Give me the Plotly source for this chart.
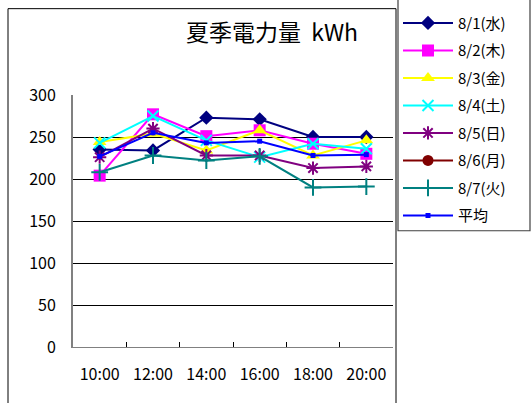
import plotly.graph_objects as go

# Hourly readings (kWh) for one week in August
times = ["10:00", "12:00", "14:00", "16:00", "18:00", "20:00"]
day_labels = ["8/1(水)", "8/2(木)", "8/3(金)", "8/4(土)", "8/5(日)", "8/6(月)", "8/7(火)", "平均"]

d0801 = [235, 234, 273, 271, 250, 250]
d0802 = [204, 277, 251, 258, 242, 230]
d0803 = [244, 254, 234, 258, 228, 246]
d0804 = [243, 275, 246, 226, 242, 236]
d0805 = [226, 260, 228, 228, 213, 215]
d0806 = [None, None, None, None, None, None]
d0807 = [208, 228, 222, 227, 190, 191]
avg = [227, 255, 243, 245, 228, 229]

y_ticks = [0, 50, 100, 150, 200, 250, 300]

series = [d0801, d0802, d0803, d0804, d0805, d0806, d0807, avg]
styles = [
    dict(color="#000080", symbol="diamond", size=11, lw=0),
    dict(color="#FF00FF", symbol="square", size=12, lw=0),
    dict(color="#FFFF00", symbol="triangle-up", size=12, lw=0),
    dict(color="#00FFFF", symbol="x-thin-open", size=11, lw=2),
    dict(color="#800080", symbol="asterisk-open", size=11, lw=2),
    dict(color="#800000", symbol="circle", size=11, lw=0),
    dict(color="#008080", symbol="cross-thin-open", size=12, lw=2),
    dict(color="#0000FF", symbol="square", size=5, lw=0),
]

FONT = "Noto Sans CJK JP"

fig = go.Figure()
for i, (name, vals, st) in enumerate(zip(day_labels, series, styles)):
    fig.add_trace(go.Scatter(
        x=times, y=vals, name=name, mode="lines+markers",
        legendgroup=f"g{i}",
        line=dict(color=st["color"], width=2),
        marker=dict(symbol=st["symbol"], size=st["size"], color=st["color"],
                    line=dict(color=st["color"], width=st["lw"])),
        connectgaps=False,
    ))

# plot area geometry (pixels)
W, H = 531, 403
L, R, T, B = 73, 393, 94.5, 347
pw, ph = R - L, B - T

def px_x(x):
    return (x - L) / pw

def px_y(y):
    return (B - y) / ph

# outer chart frame
fig.add_shape(type="rect", xref="paper", yref="paper",
              x0=px_x(8), x1=px_x(396), y0=px_y(420), y1=px_y(8),
              line=dict(color="black", width=1), layer="below")

# legend box frame
fig.add_shape(type="rect", xref="paper", yref="paper",
              x0=px_x(398), x1=px_x(530), y0=px_y(230.5), y1=px_y(-3),
              line=dict(color="#404040", width=1.2), fillcolor="white",
              layer="above")

fig.update_layout(
    width=W, height=H,
    margin=dict(l=L, r=W - R, t=T, b=H - B, autoexpand=False),
    paper_bgcolor="white", plot_bgcolor="white",
    font=dict(family=FONT, color="black"),
    title=dict(text="夏季電力量\u00a0\u00a0kWh", font=dict(size=23, family=FONT),
               x=px_x(272), xanchor="center", xref="paper",
               y=1 - 33 / H, yanchor="middle", yref="container"),
    showlegend=True,
    legend=dict(
        x=px_x(398), xanchor="left", y=px_y(6), yanchor="top",
        borderwidth=0, bgcolor="rgba(0,0,0,0)",
        font=dict(size=15, family=FONT),
        tracegroupgap=5, itemwidth=50, maxheight=600,
    ),
    xaxis=dict(
        type="category", range=[-0.5, 5.5],
        showline=True, linecolor="#808080", linewidth=1,
        ticks="inside", ticklen=5, tickcolor="#000000", tickson="boundaries",
        showgrid=False, zeroline=False,
        tickfont=dict(size=16, family=FONT),
        ticklabelstandoff=13,
    ),
    yaxis=dict(
        range=[0, 300], tickvals=y_ticks,
        showline=True, linecolor="#808080", linewidth=2,
        ticks="inside", ticklen=5, tickcolor="#000000",
        showgrid=True, gridcolor="#000000", gridwidth=1,
        zeroline=False,
        tickfont=dict(size=16, family=FONT),
        ticklabelstandoff=12,
    ),
)

fig.write_html("out.html")
